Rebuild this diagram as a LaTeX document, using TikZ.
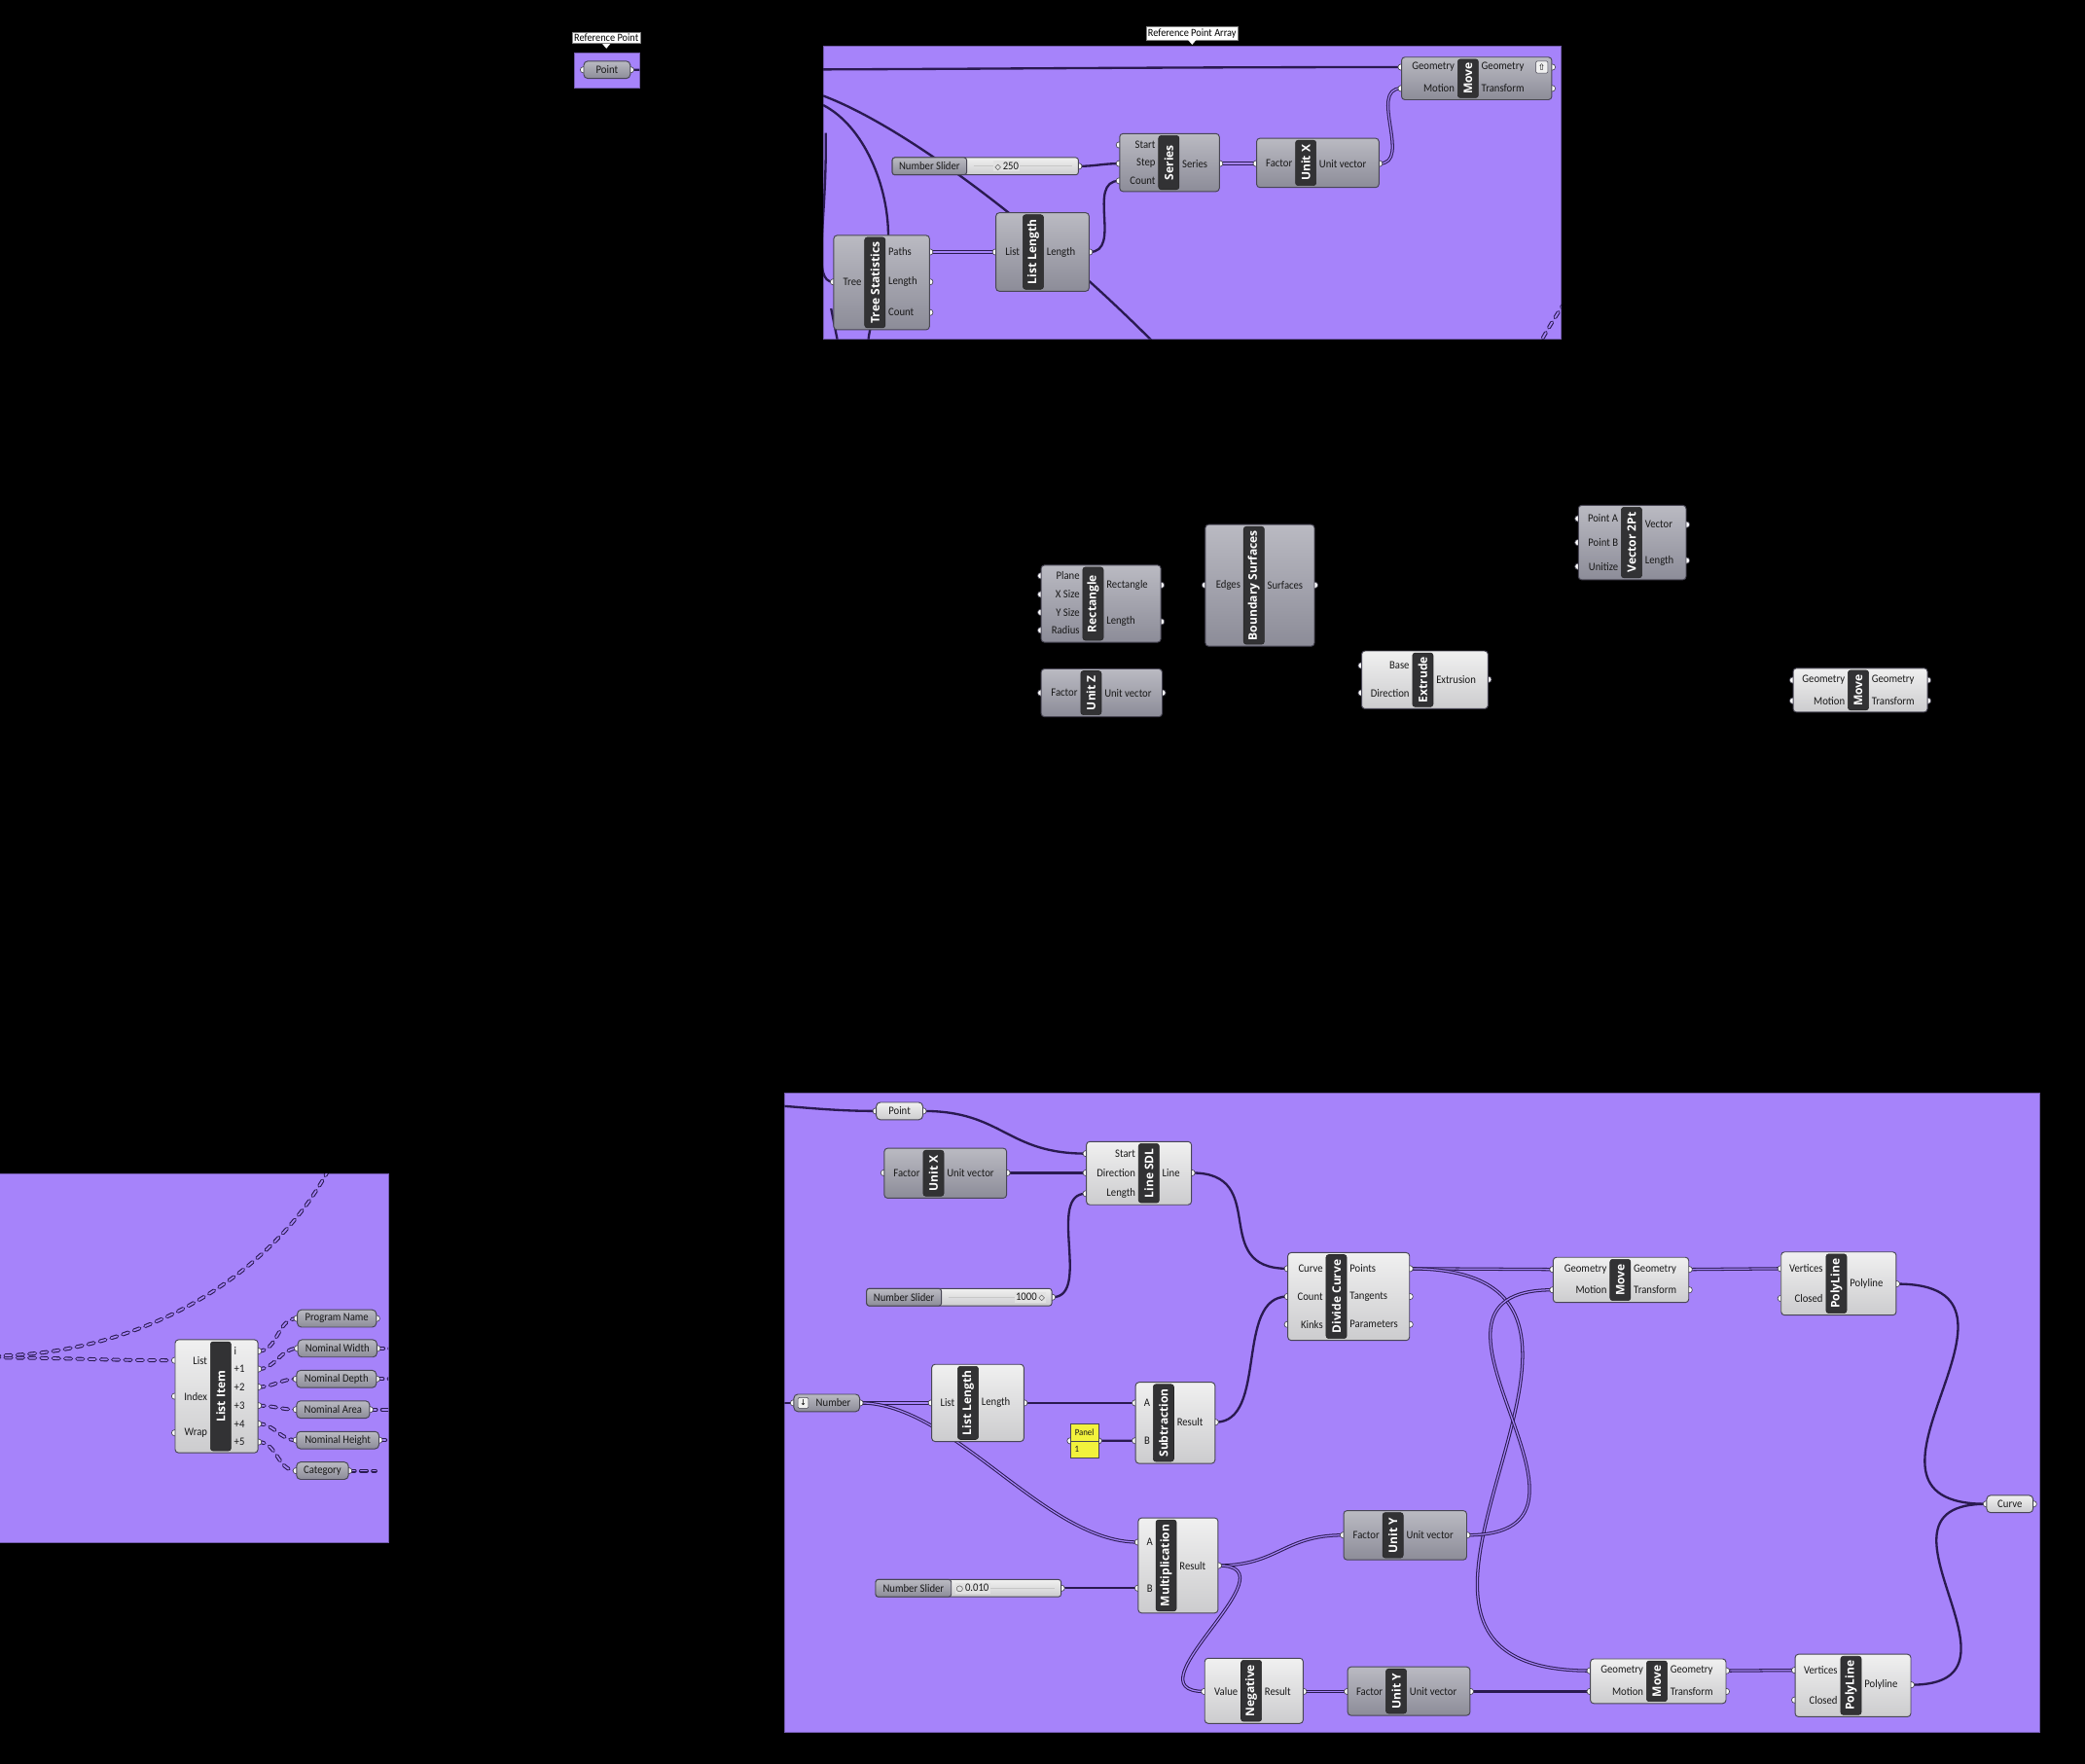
\documentclass[tikz,border=0pt]{standalone}
\usepackage{fontspec}
\setmainfont{Carlito}
\newfontfamily\ghfont[FakeStretch=0.92]{Carlito}
\newfontfamily\barfont{Open Sans}
\newfontfamily\simfont{DejaVu Sans}

\definecolor{viola}{RGB}{166,131,250}
\definecolor{filoc}{RGB}{42,26,80}
\definecolor{chiarosu}{RGB}{240,240,240}
\definecolor{chiarogiu}{RGB}{204,204,206}
\definecolor{scurosu}{RGB}{186,186,194}
\definecolor{scurogiu}{RGB}{140,140,152}
\definecolor{bordo}{RGB}{72,70,84}
\definecolor{barrac}{RGB}{50,50,52}
\definecolor{pannello}{RGB}{242,242,60}

\pgfdeclarelayer{gruppi}
\pgfdeclarelayer{fili}
\pgfdeclarelayer{prese}
\pgfsetlayers{gruppi,fili,prese,main}

% Componente: nome, x1, y1, x2, y2, centro barra, titolo, tono
\newcommand{\ghcomp}[8]{%
  \node[#8, minimum width={#4-#2}, minimum height={#5-#3}] (#1) at ({(#2+#4)/2},{(#3+#5)/2}) {};
  \node[barra, minimum height={#5-#3-3}] (#1-bar) at (#6,{(#3+#5)/2}) {\rotatebox{90}{#7}};
}
% Ingresso / uscita: componente, porta, y, testo
\newcommand{\ghin}[4]{%
  \coordinate (tmp) at (0,#3);
  \coordinate (#2) at (#1.west |- tmp);
  \begin{pgfonlayer}{prese}\draw[presa] (#2) circle [radius=2.3pt];\end{pgfonlayer}
  \path (#1-bar.west |- tmp) node[porta, anchor=east, xshift=-2pt] {#4};
}
\newcommand{\ghout}[4]{%
  \coordinate (tmp) at (0,#3);
  \coordinate (#2) at (#1.east |- tmp);
  \begin{pgfonlayer}{prese}\draw[presa] (#2) circle [radius=2.3pt];\end{pgfonlayer}
  \path (#1-bar.east |- tmp) node[porta, anchor=west, xshift=2pt] {#4};
}
% Parametro: nome, x1, x2, y, testo, tono
\newcommand{\ghparam}[6]{%
  \node[#6, rounded corners=3pt, minimum width={#3-#2}, minimum height=13, porta] (#1) at ({(#2+#3)/2},#4) {#5};
  \begin{pgfonlayer}{prese}
    \draw[presa] (#1.west) circle [radius=2.3pt];
    \draw[presa] (#1.east) circle [radius=2.3pt];
  \end{pgfonlayer}
}
% Cursore: nome, x1, x2, y, divisione
\newcommand{\ghslider}[5]{%
  \node[chiaro, rounded corners=2pt, minimum width={#3-#2}, minimum height=13] (#1) at ({(#2+#3)/2},#4) {};
  \node[scuro, rounded corners=2pt, minimum width={#5-#2}, minimum height=13, porta] (#1-n) at ({(#2+#5)/2},#4) {Number Slider};
  \draw[traccia] ([xshift=5pt]#1-n.east) -- ([xshift=-5pt]#1.east);
  \begin{pgfonlayer}{prese}\draw[presa] (#1.east) circle [radius=2.3pt];\end{pgfonlayer}
}

\begin{document}
\begin{tikzpicture}[
    x=1pt, y=-1pt,   % coordinate in pixel della schermata
    gruppo/.style={fill=viola, draw=viola!70!black, line width=0.6pt},
    etichetta/.style={fill=white, draw=black!50, font=\ghfont\fontsize{8.2}{9}\selectfont, inner sep=1.4pt, text=black},
    chiaro/.style={draw=bordo, line width=0.7pt, rounded corners=2.5pt, top color=chiarosu, bottom color=chiarogiu, inner sep=0pt},
    scuro/.style={draw=bordo, line width=0.7pt, rounded corners=2.5pt, top color=scurosu, bottom color=scurogiu, inner sep=0pt},
    barra/.style={fill=barrac, draw=black!85, rounded corners=2pt, minimum width=15.5pt, inner sep=0pt, text=white, font=\barfont\bfseries\fontsize{8.8}{9}\selectfont},
    porta/.style={font=\ghfont\fontsize{8.5}{9}\selectfont, text=black!90, inner sep=0pt},
    valore/.style={porta, fill=chiarosu!60!chiarogiu, inner sep=1pt},
    presa/.style={fill=white, draw=bordo, line width=0.5pt},
    filo/.style={draw=filoc, line width=1.7pt},
    lista/.style={draw=filoc, line width=0.75pt, double=viola, double distance=0.9pt},
    albero/.style={draw=filoc, line width=0.8pt, double=viola, double distance=1.3pt, line cap=round, dash pattern=on 4.5pt off 4.5pt},
    traccia/.style={draw=black!22, line width=0.6pt}
]
    \useasboundingbox (0,0) rectangle (1568,1326.5);

    % =========================================================================
    % 0. SFONDO E GRUPPI
    % =========================================================================
    \begin{pgfonlayer}{gruppi}
        \fill[black] (0,0) rectangle (1568,1326.5);
        \draw[gruppo] (432,40) rectangle (481,66);         % Reference Point
        \draw[gruppo] (619,34.5) rectangle (1174,255);     % Reference Point Array
        \draw[gruppo] (-1,882.5) rectangle (292,1160);     % List Item
        \draw[gruppo] (590,822) rectangle (1534,1303);     % Polilinee
    \end{pgfonlayer}

    % Etichette dei gruppi con la punta
    \node[etichetta] (g1-t) at (456,28.5) {Reference Point};
    \fill[white] ([xshift=-3pt]g1-t.south) -- ([xshift=3pt]g1-t.south) -- ([yshift=-3.5pt]g1-t.south) -- cycle;
    \node[etichetta] (g2-t) at (896.5,25) {Reference Point Array};
    \fill[white] ([xshift=-3pt]g2-t.south) -- ([xshift=3pt]g2-t.south) -- ([yshift=-3.5pt]g2-t.south) -- cycle;

    % =========================================================================
    % 1. IN ALTO: PUNTO DI RIFERIMENTO E SERIE
    % =========================================================================
    \ghparam{rp}{439}{474}{52.5}{Point}{scuro}

    \ghcomp{mvA}{1054}{43}{1167}{75}{1104}{Move}{scuro}
    \ghin{mvA}{mvA-g}{50.5}{Geometry}
    \ghin{mvA}{mvA-m}{66.5}{Motion}
    \ghout{mvA}{mvA-og}{50.5}{Geometry}
    \ghout{mvA}{mvA-ot}{66.5}{Transform}
    \node[draw=bordo, fill=chiarosu, rounded corners=1pt, minimum size=9pt, inner sep=0pt,
          font=\simfont\fontsize{6.5}{7}\selectfont] (mvA-ic) at (1159.5,50.5) {⇧};

    \ghslider{slA}{671}{811}{125}{727}
    \node[valore, anchor=west] (slA-v) at (747,125) {{\simfont\fontsize{6}{6}\selectfont ◇}\,250};

    \ghcomp{ser}{842}{100.5}{917}{144}{879}{Series}{scuro}
    \ghin{ser}{ser-s}{109}{Start}
    \ghin{ser}{ser-p}{123}{Step}
    \ghin{ser}{ser-c}{136}{Count}
    \ghout{ser}{ser-o}{123}{Series}

    \ghcomp{uxA}{945}{104}{1037}{141}{982}{Unit X}{scuro}
    \ghin{uxA}{uxA-f}{123}{Factor}
    \ghout{uxA}{uxA-o}{123}{Unit vector}

    \ghcomp{llA}{749}{160}{819}{219}{777}{List Length}{scuro}
    \ghin{llA}{llA-l}{189.5}{List}
    \ghout{llA}{llA-o}{189.5}{Length}

    \ghcomp{ts}{627}{177}{699}{248}{658}{Tree Statistics}{scuro}
    \ghin{ts}{ts-t}{212}{Tree}
    \ghout{ts}{ts-p}{189.5}{Paths}
    \ghout{ts}{ts-l}{212}{Length}
    \ghout{ts}{ts-c}{235}{Count}

    % =========================================================================
    % 2. CENTRO: COMPONENTI SCOLLEGATI
    % =========================================================================
    \ghcomp{ret}{783}{425}{873}{483}{822}{Rectangle}{scuro}
    \ghin{ret}{ret-p}{433}{Plane}
    \ghin{ret}{ret-x}{447}{X Size}
    \ghin{ret}{ret-y}{460.5}{Y Size}
    \ghin{ret}{ret-r}{474}{Radius}
    \ghout{ret}{ret-o}{440}{Rectangle}
    \ghout{ret}{ret-l}{467.5}{Length}

    \ghcomp{bs}{906.5}{394.5}{988.5}{486}{943}{Boundary Surfaces}{scuro}
    \ghin{bs}{bs-e}{440}{Edges}
    \ghout{bs}{bs-o}{440}{Surfaces}

    \ghcomp{uz}{783}{503}{874}{539}{820.5}{Unit Z}{scuro}
    \ghin{uz}{uz-f}{521}{Factor}
    \ghout{uz}{uz-o}{521}{Unit vector}

    \ghcomp{ext}{1024}{489.5}{1119}{533}{1070}{Extrude}{chiaro}
    \ghin{ext}{ext-b}{500.5}{Base}
    \ghin{ext}{ext-d}{521}{Direction}
    \ghout{ext}{ext-o}{511}{Extrusion}

    \ghcomp{v2}{1187}{380}{1268}{436}{1227}{Vector 2Pt}{scuro}
    \ghin{v2}{v2-a}{390}{Point A}
    \ghin{v2}{v2-b}{408}{Point B}
    \ghin{v2}{v2-u}{426}{Unitize}
    \ghout{v2}{v2-v}{394.5}{Vector}
    \ghout{v2}{v2-l}{421.5}{Length}

    \ghcomp{mvB}{1348.5}{502.5}{1449.5}{535.5}{1397.5}{Move}{chiaro}
    \ghin{mvB}{mvB-g}{511.5}{Geometry}
    \ghin{mvB}{mvB-m}{527}{Motion}
    \ghout{mvB}{mvB-og}{511.5}{Geometry}
    \ghout{mvB}{mvB-ot}{527}{Transform}

    % =========================================================================
    % 3. SINISTRA IN BASSO: LIST ITEM
    % =========================================================================
    \ghcomp{li}{131.7}{1007.5}{194}{1092.5}{166}{List Item}{chiaro}
    \ghin{li}{li-l}{1023}{List}
    \ghin{li}{li-x}{1050}{Index}
    \ghin{li}{li-w}{1077.5}{Wrap}
    \ghout{li}{li-0}{1016}{i}
    \ghout{li}{li-1}{1029.5}{+1}
    \ghout{li}{li-2}{1043}{+2}
    \ghout{li}{li-3}{1057}{+3}
    \ghout{li}{li-4}{1070.7}{+4}
    \ghout{li}{li-5}{1084.4}{+5}

    \ghparam{pn}{223.6}{283}{991.5}{Program Name}{scuro}
    \ghparam{nw}{224}{283.5}{1014}{Nominal Width}{scuro}
    \ghparam{nd}{223}{283}{1037}{Nominal Depth}{scuro}
    \ghparam{na}{223}{278}{1060}{Nominal Area}{scuro}
    \ghparam{nh}{223}{285}{1083}{Nominal Height}{scuro}
    \ghparam{cat}{223}{262}{1106}{Category}{scuro}

    % =========================================================================
    % 4. DESTRA IN BASSO: LINEA, DIVISIONE E POLILINEE
    % =========================================================================
    \ghparam{pt}{659}{694}{835.5}{Point}{chiaro}

    \ghcomp{uxB}{665}{863.5}{757}{901}{702}{Unit X}{scuro}
    \ghin{uxB}{uxB-f}{882}{Factor}
    \ghout{uxB}{uxB-o}{882}{Unit vector}

    \ghcomp{sdl}{817}{858.5}{896}{906}{864}{Line SDL}{chiaro}
    \ghin{sdl}{sdl-s}{867.5}{Start}
    \ghin{sdl}{sdl-d}{882}{Direction}
    \ghin{sdl}{sdl-l}{897.6}{Length}
    \ghout{sdl}{sdl-o}{882}{Line}

    \ghslider{slB}{651.7}{791}{975.5}{708}
    \node[valore, anchor=east] (slB-v) at (787,975.5) {1000\,{\simfont\fontsize{6}{6}\selectfont ◇}};

    \ghcomp{dc}{968.5}{942}{1060}{1008}{1005}{Divide Curve}{chiaro}
    \ghin{dc}{dc-c}{954}{Curve}
    \ghin{dc}{dc-n}{975}{Count}
    \ghin{dc}{dc-k}{996}{Kinks}
    \ghout{dc}{dc-p}{954}{Points}
    \ghout{dc}{dc-t}{975}{Tangents}
    \ghout{dc}{dc-r}{996}{Parameters}

    \ghparam{num}{597}{646.5}{1055}{\hspace*{10pt}Number}{scuro}
    \node[draw=bordo, fill=chiarosu, rounded corners=1pt, minimum size=8pt, inner sep=0pt,
          font=\simfont\fontsize{6}{6}\selectfont] (num-ic) at (604,1055) {↓};

    \ghcomp{llB}{700.7}{1026}{770}{1084}{728}{List Length}{chiaro}
    \ghin{llB}{llB-l}{1055}{List}
    \ghout{llB}{llB-o}{1055}{Length}

    \ghcomp{sub}{854}{1039.5}{913.7}{1100.5}{875}{Subtraction}{chiaro}
    \ghin{sub}{sub-a}{1055}{A}
    \ghin{sub}{sub-b}{1083.4}{B}
    \ghout{sub}{sub-o}{1069.5}{Result}

    % Pannello giallo con il valore 1
    \node[draw=bordo, fill=pannello, minimum width=21, minimum height=26, inner sep=0pt] (pan) at (815.5,1083.5) {};
    \node[porta, font=\ghfont\fontsize{7}{7}\selectfont] (pan-t) at (815.5,1077) {Panel};
    \draw[bordo, line width=0.5pt] (pan.west) -- (pan.east);
    \node[porta, font=\ghfont\fontsize{7}{7}\selectfont, anchor=west] (pan-v) at (808,1090) {1};
    \begin{pgfonlayer}{prese}
        \draw[presa] (pan.west) circle [radius=2.3pt];
        \draw[presa] (pan.east) circle [radius=2.3pt];
    \end{pgfonlayer}

    \ghcomp{mul}{856}{1141.5}{916}{1213}{877}{Multiplication}{chiaro}
    \ghin{mul}{mul-a}{1159.7}{A}
    \ghin{mul}{mul-b}{1194.3}{B}
    \ghout{mul}{mul-o}{1177.3}{Result}

    \ghslider{slC}{658.5}{798}{1194.3}{715.4}
    \node[valore, anchor=west] (slC-v) at (718,1194.3) {{\simfont\bfseries\fontsize{6}{6}\selectfont ○}\,0.010};

    \ghcomp{uyA}{1010.5}{1136}{1103}{1173}{1047.5}{Unit Y}{scuro}
    \ghin{uyA}{uyA-f}{1154.4}{Factor}
    \ghout{uyA}{uyA-o}{1154.4}{Unit vector}

    \ghcomp{neg}{906}{1247}{980}{1296}{941}{Negative}{chiaro}
    \ghin{neg}{neg-v}{1272}{Value}
    \ghout{neg}{neg-o}{1272}{Result}

    \ghcomp{uyB}{1013.5}{1253.5}{1105.5}{1290}{1050}{Unit Y}{scuro}
    \ghin{uyB}{uyB-f}{1272}{Factor}
    \ghout{uyB}{uyB-o}{1272}{Unit vector}

    \ghcomp{mv1}{1168}{945.5}{1270}{979.5}{1218.5}{Move}{chiaro}
    \ghin{mv1}{mv1-g}{954.6}{Geometry}
    \ghin{mv1}{mv1-m}{970}{Motion}
    \ghout{mv1}{mv1-og}{954.6}{Geometry}
    \ghout{mv1}{mv1-ot}{970}{Transform}

    \ghcomp{mv2}{1196}{1247.5}{1298}{1281}{1246}{Move}{chiaro}
    \ghin{mv2}{mv2-g}{1256.4}{Geometry}
    \ghin{mv2}{mv2-m}{1272}{Motion}
    \ghout{mv2}{mv2-og}{1256.4}{Geometry}
    \ghout{mv2}{mv2-ot}{1272}{Transform}

    \ghcomp{pl1}{1339.5}{941.5}{1426}{989}{1381}{PolyLine}{chiaro}
    \ghin{pl1}{pl1-v}{954}{Vertices}
    \ghin{pl1}{pl1-c}{976.4}{Closed}
    \ghout{pl1}{pl1-o}{965.5}{Polyline}

    \ghcomp{pl2}{1350}{1244}{1437}{1291}{1392}{PolyLine}{chiaro}
    \ghin{pl2}{pl2-v}{1256}{Vertices}
    \ghin{pl2}{pl2-c}{1278.4}{Closed}
    \ghout{pl2}{pl2-o}{1267}{Polyline}

    \ghparam{crv}{1494}{1529}{1131}{Curve}{chiaro}

    % =========================================================================
    % 5. FILI (solo dentro i gruppi: sul nero non si vedono)
    % =========================================================================
    % Estremi liberi dei fili che arrivano da fuori
    \coordinate (fA) at (619,72);    \coordinate (fA2) at (866,256);
    \coordinate (fB) at (619,79);    \coordinate (fB2) at (653,256);
    \coordinate (fC) at (621,100);
    \coordinate (fE) at (625,232);   \coordinate (fE2) at (630,257);
    \coordinate (fD) at (1156,262);  \coordinate (fD2) at (1180,222);
    \coordinate (liA) at (-5,1021);  \coordinate (liB) at (-5,1019.5);
    \coordinate (liC) at (250,874);
    \coordinate (ptsrc) at (545,830);
    \coordinate (numsrc) at (560,1055);

    \begin{pgfonlayer}{fili}
    \begin{scope}
        \clip (432,40) rectangle (481,66) (619,34.5) rectangle (1174,255)
              (-1,882.5) rectangle (292,1160) (590,822) rectangle (1534,1303);

        % Gruppo in alto
        \draw[filo] (rp.east) to[out=0,in=180] (mvA-g);
        \draw[filo] (fA) .. controls (680,95) and (780,170) .. (fA2);
        \draw[filo] (fB) .. controls (650,95) and (668,140) .. (668,177) .. controls (668,220) and (655,235) .. (fB2);
        \draw[filo] (fC) .. controls (622,170) and (610,212) .. (ts-t);
        \draw[filo] (fE) -- (fE2);
        \draw[albero] (fD) .. controls (1165,245) and (1172,235) .. (fD2);
        \draw[filo] (slA.east) to[out=0,in=180] (ser-p);
        \draw[lista] (ser-o) -- (uxA-f);
        \draw[lista] (uxA-o) .. controls +(25,0) and +(-25,0) .. (mvA-m);
        \draw[lista] (ts-p) -- (llA-l);
        \draw[filo] (llA-o) .. controls +(25,0) and +(-25,0) .. (ser-c);

        % Gruppo List Item (dati ad albero)
        \draw[albero] (liA) to[out=0,in=180] (li-l);
        \draw[albero] (liB) .. controls (110,1019) and (210,955) .. (liC);
        \draw[albero] (li-0) to[out=0,in=180] (pn.west);
        \draw[albero] (li-1) to[out=0,in=180] (nw.west);
        \draw[albero] (li-2) to[out=0,in=180] (nd.west);
        \draw[albero] (li-3) to[out=0,in=180] (na.west);
        \draw[albero] (li-4) to[out=0,in=180] (nh.west);
        \draw[albero] (li-5) to[out=0,in=180] (cat.west);
        \foreach \p in {nw,nd,na,nh,cat} {
            \draw[albero] (\p.east) -- ++(20,0);
        }

        % Gruppo in basso a destra
        \draw[filo] (ptsrc) to[out=0,in=180] (pt.west);
        \draw[filo] (pt.east) .. controls +(60,0) and +(-60,0) .. (sdl-s);
        \draw[filo] (uxB-o) -- (sdl-d);
        \draw[filo] (slB.east) .. controls +(30,0) and +(-30,0) .. (sdl-l);
        \draw[filo] (sdl-o) .. controls +(60,0) and +(-60,0) .. (dc-c);
        \draw[filo] (numsrc) -- (num.west);
        \draw[lista] (num.east) -- (llB-l);
        \draw[lista] (num.east) .. controls +(70,0) and +(-70,0) .. (mul-a);
        \draw[filo] (llB-o) -- (sub-a);
        \draw[filo] (pan.east) -- (sub-b);
        \draw[filo] (sub-o) .. controls +(40,0) and +(-40,0) .. (dc-n);
        \draw[filo] (slC.east) -- (mul-b);
        \draw[lista] (mul-o) .. controls +(45,0) and +(-45,0) .. (uyA-f);
        \draw[lista] (mul-o) .. controls +(60,0) and +(-60,0) .. (neg-v);
        \draw[lista] (neg-o) -- (uyB-f);
        \draw[lista] (dc-p) -- (mv1-g);
        \draw[lista] (dc-p) .. controls +(220,0) and +(-220,0) .. (mv2-g);
        \draw[lista] (uyA-o) .. controls +(130,0) and +(-130,0) .. (mv1-m);
        \draw[filo] (uyB-o) -- (mv2-m);
        \draw[lista] (mv1-og) -- (pl1-v);
        \draw[lista] (mv2-og) -- (pl2-v);
        \draw[filo] (pl1-o) .. controls +(125,0) and +(-125,0) .. (crv.west);
        \draw[filo] (pl2-o) .. controls +(100,0) and +(-100,0) .. (crv.west);
    \end{scope}
    \end{pgfonlayer}

\end{tikzpicture}
\end{document}
